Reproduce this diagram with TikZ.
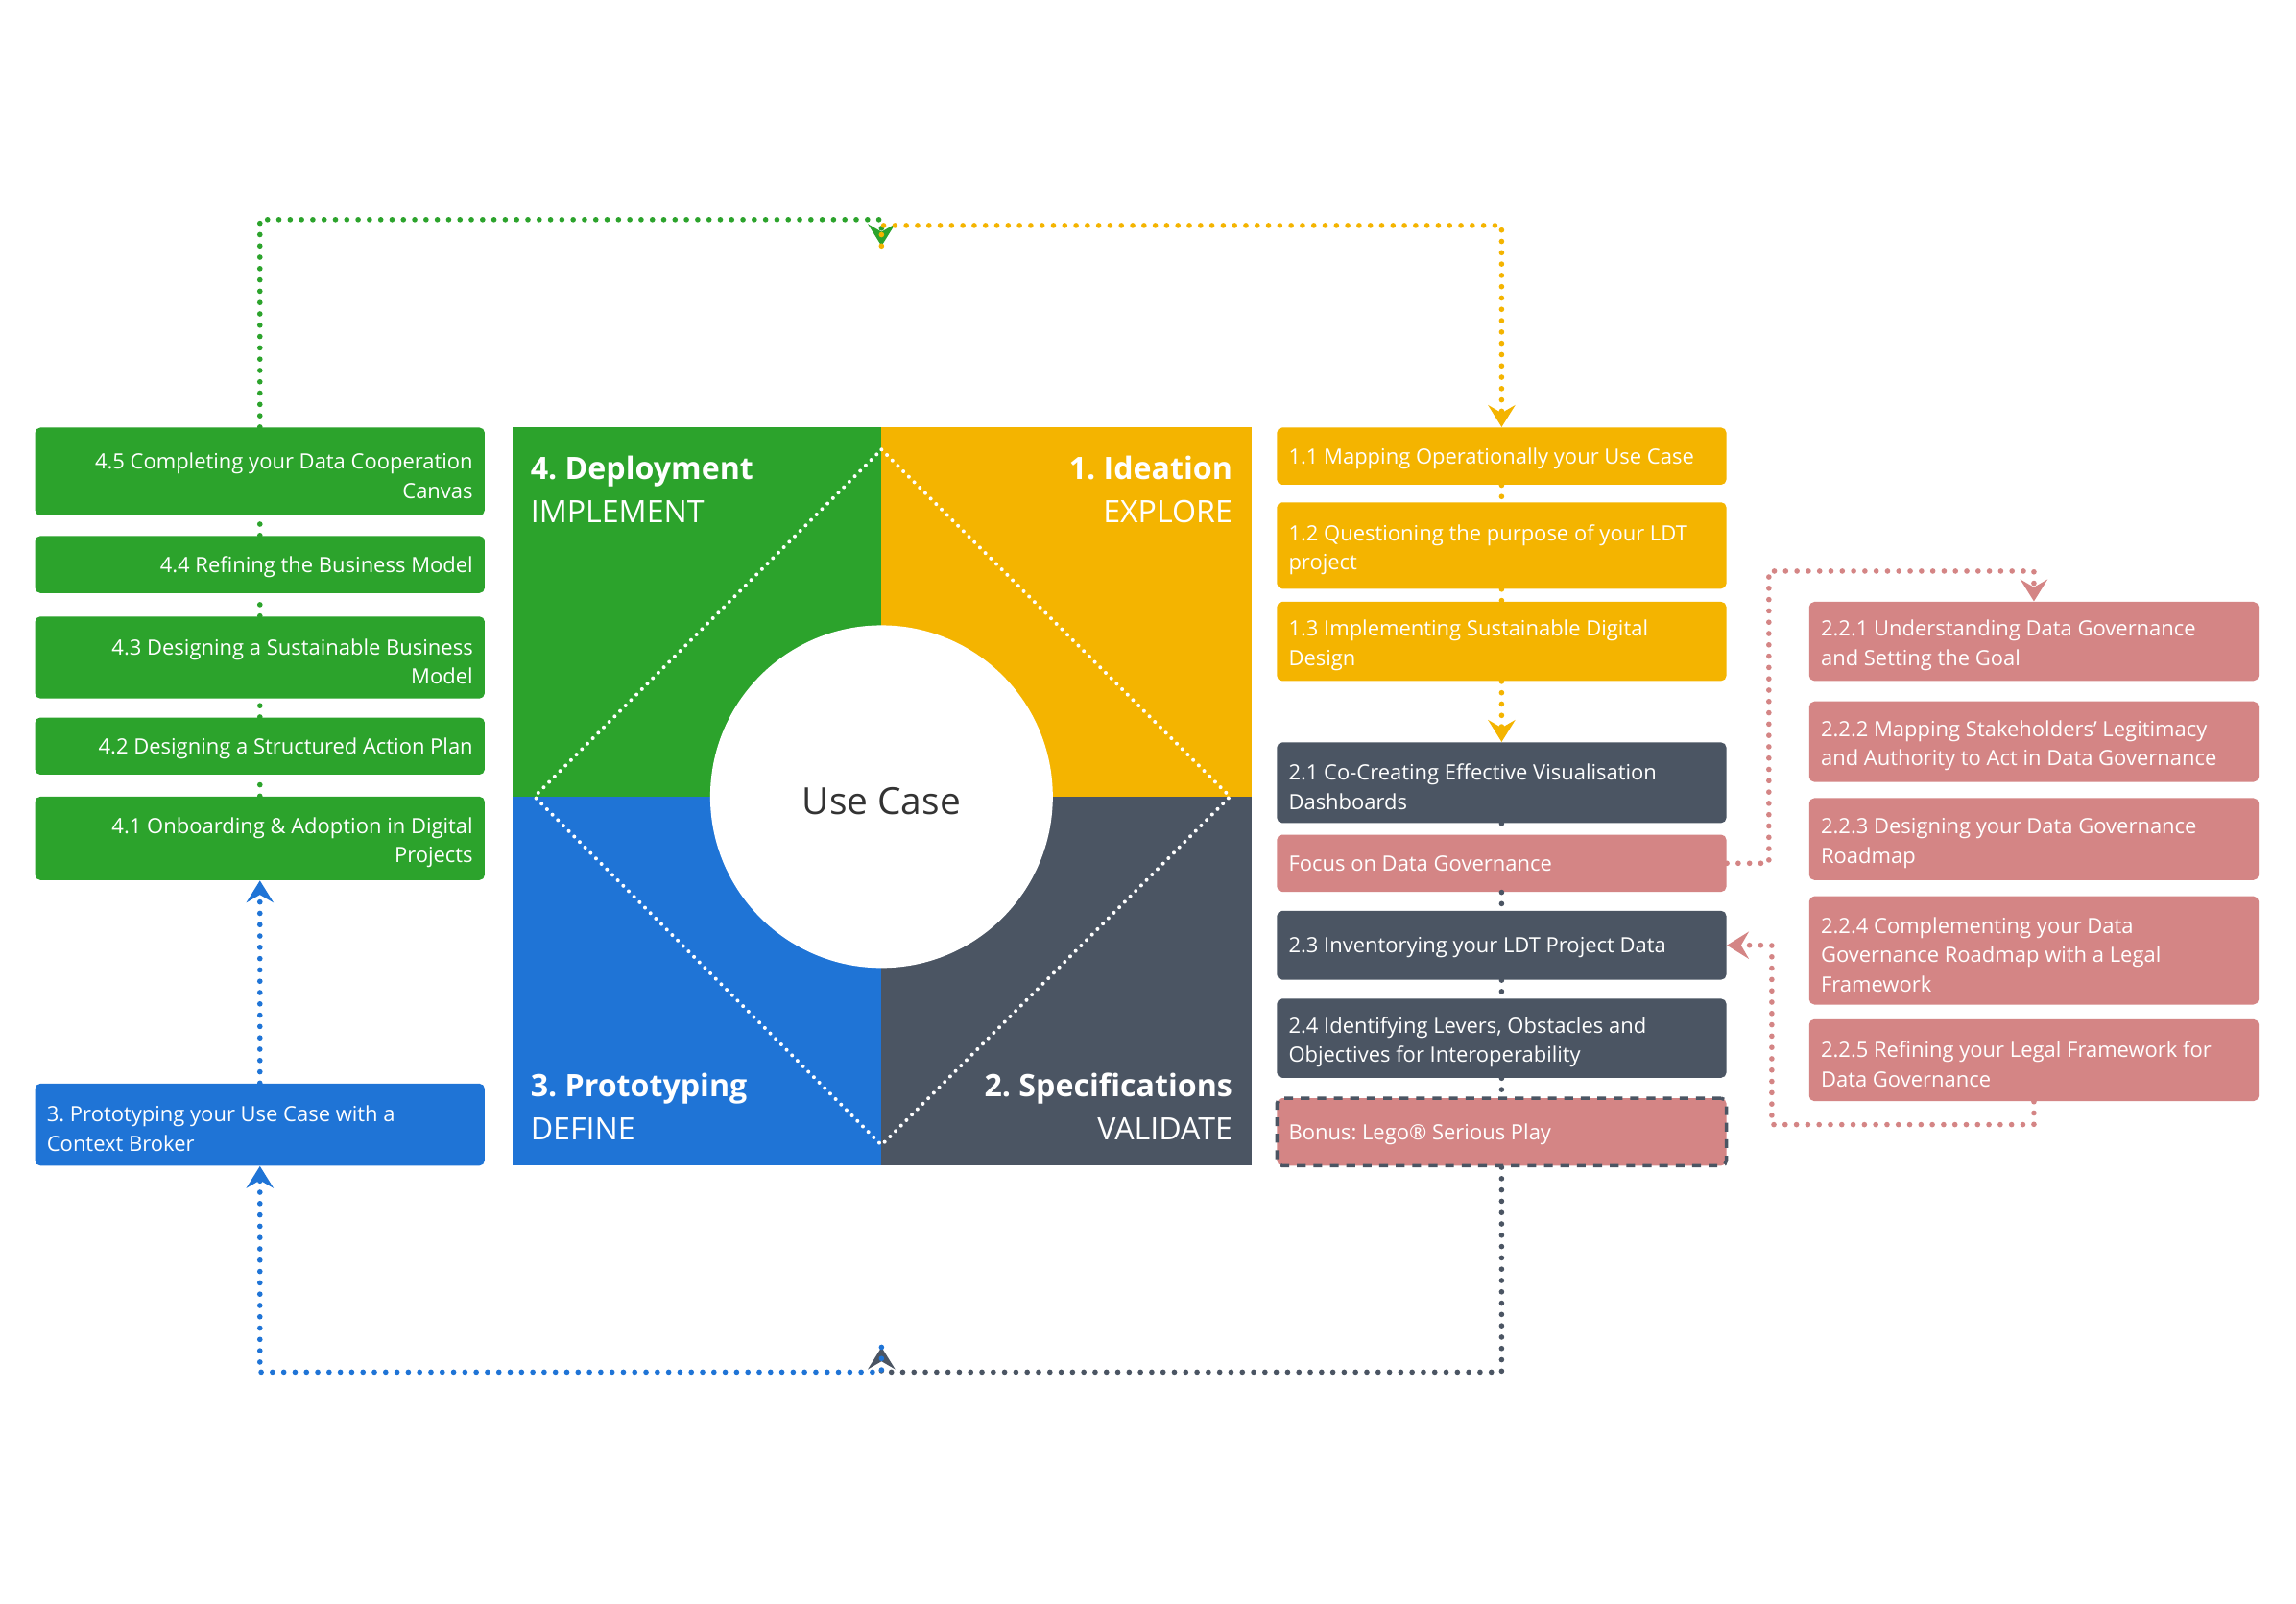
\documentclass[tikz,border=0pt]{standalone}
\usepackage{fontspec}
\setmainfont{Open Sans}
\usetikzlibrary{arrows.meta}
\definecolor{dplgreen}{HTML}{2CA32C}
\definecolor{idyellow}{HTML}{F4B400}
\definecolor{prblue}{HTML}{1F74D6}
\definecolor{spgray}{HTML}{4B5563}
\definecolor{dgpink}{HTML}{D48585}
\definecolor{ucdark}{HTML}{333333}
\frenchspacing
\hyphenpenalty=10000
\begin{document}
\begin{tikzpicture}[x=0.02cm, y=-0.02cm,
    box/.style={rectangle, rounded corners=2pt, text=white, inner xsep=0.16cm, inner ysep=0pt,
        text width=5.82cm, font=\fontsize{8.2}{11.4}\selectfont,
        execute at end node={\endgraf\kern-3.2pt}},
    lbox/.style={box, fill=dplgreen, align=flush right,
        execute at begin node={\advance\leftskip by 0.22cm\relax}},
    rbox/.style={box, align=flush left,
        execute at begin node={\advance\rightskip by 0.22cm\relax}},
    dots/.style={line width=2.1pt, line cap=round, dash pattern=on 0pt off 4.4pt},
    tip/.style={-{Stealth[length=8.5pt, width=10.5pt, inset=3pt]}},
    phase/.style={inner sep=0pt, text=white, font=\fontsize{12}{17}\selectfont}]
    \useasboundingbox[fill=white] (0,0) rectangle (1568,1095);

    \fill[dplgreen] (350,292) rectangle (602,544);
    \fill[idyellow] (602,292) rectangle (855,544);
    \fill[prblue] (350,544) rectangle (602,796);
    \fill[spgray] (602,544) rectangle (855,796);
    \draw[white, line width=1.5pt, line cap=round, dash pattern=on 0pt off 3pt]
        (602,307) -- (840,544) -- (602,782) -- (365,544) -- cycle;
    \node[circle, fill=white, minimum size=4.68cm, text=ucdark, text height=13.8pt, text depth=0pt,
        font=\fontsize{14.5}{17}\selectfont] (uc) at (602,544) {Use Case};
    \node[phase, anchor=north west, align=left] (p4) at (362,311) {\textbf{4. Deployment}\\IMPLEMENT};
    \node[phase, anchor=north east, align=right] (p1) at (842,311) {\textbf{1. Ideation}\\EXPLORE};
    \node[phase, anchor=south west, align=left] (p3) at (362,779) {\textbf{3. Prototyping}\\DEFINE};
    \node[phase, anchor=south east, align=right] (p2) at (842,779) {\textbf{2. Specifications}\\VALIDATE};

    \node[lbox, minimum height=1.2cm] (b45) at (177.5,322) {4.5 Completing your Data Cooperation Canvas};
    \node[lbox, minimum height=0.78cm] (b44) at (177.5,385.5) {4.4 Refining the Business Model};
    \node[lbox, minimum height=1.12cm] (b43) at (177.5,449) {4.3 Designing a Sustainable Business Model};
    \node[lbox, minimum height=0.78cm] (b42) at (177.5,509.5) {4.2 Designing a Structured Action Plan};
    \node[lbox, minimum height=1.14cm] (b41) at (177.5,572.5) {4.1 Onboarding \& Adoption in Digital Projects};
    \node[rbox, fill=prblue, minimum height=1.12cm] (b3) at (177.5,768) {3. Prototyping your Use Case with a Context Broker};

    \node[rbox, fill=idyellow, minimum height=0.78cm] (b11) at (1025.5,311.5) {1.1 Mapping Operationally your Use Case};
    \node[rbox, fill=idyellow, minimum height=1.18cm] (b12) at (1025.5,372.5) {1.2 Questioning the purpose of your LDT project};
    \node[rbox, fill=idyellow, minimum height=1.08cm] (b13) at (1025.5,438) {1.3 Implementing Sustainable Digital Design};
    \node[rbox, fill=spgray, minimum height=1.1cm] (b21) at (1025.5,534.5) {2.1 Co-Creating Effective Visualisation Dashboards};
    \node[rbox, fill=dgpink, minimum height=0.78cm] (bfocus) at (1025.5,589.5) {Focus on Data Governance};
    \node[rbox, fill=spgray, minimum height=0.94cm] (b23) at (1025.5,645.5) {2.3 Inventorying your LDT Project Data};
    \node[rbox, fill=spgray, minimum height=1.08cm] (b24) at (1025.5,709) {2.4 Identifying Levers, Obstacles and Objectives for Interoperability};
    \node[rbox, fill=dgpink, minimum height=0.92cm, draw=spgray, line width=1.3pt,
        dash pattern=on 3.4pt off 3pt] (bbonus) at (1025.5,773) {Bonus: Lego® Serious Play};

    \node[rbox, fill=dgpink, minimum height=1.08cm] (b221) at (1389,438) {2.2.1 Understanding Data Governance and Setting the Goal};
    \node[rbox, fill=dgpink, minimum height=1.1cm] (b222) at (1389,506.5) {2.2.2 Mapping Stakeholders' Legitimacy and Authority to Act in Data Governance};
    \node[rbox, fill=dgpink, minimum height=1.12cm] (b223) at (1389,573) {2.2.3 Designing your Data Governance Roadmap};
    \node[rbox, fill=dgpink, minimum height=1.48cm] (b224) at (1389,649) {2.2.4 Complementing your Data Governance Roadmap with a Legal Framework};
    \node[rbox, fill=dgpink, minimum height=1.12cm] (b225) at (1389,724) {2.2.5 Refining your Legal Framework for Data Governance};

    \coordinate (ctop) at (602,168);
    \coordinate (cbot) at (602,920);
    \draw[dots, dplgreen, tip] (b45.north) -- (177.5,150) -| (ctop);
    \draw[dots, idyellow, tip] (ctop) |- (1025.5,154) -- (b11.north);
    \draw[dots, spgray, tip] (bbonus.south) -- (1025.5,937) -| (cbot);
    \draw[dots, prblue, tip] (cbot) |- (177.5,937) -- (b3.south);
    \draw[dots, prblue, tip] (b3.north) -- (b41.south);

    \draw[dots, dplgreen] (b41.north) -- (b42.south);
    \draw[dots, dplgreen] (b42.north) -- (b43.south);
    \draw[dots, dplgreen] (b43.north) -- (b44.south);
    \draw[dots, dplgreen] (b44.north) -- (b45.south);

    \draw[dots, idyellow] (b11.south) -- (b12.north);
    \draw[dots, idyellow] (b12.south) -- (b13.north);
    \draw[dots, idyellow, tip] (b13.south) -- (b21.north);

    \draw[dots, spgray] (b21.south) -- (bfocus.north);
    \draw[dots, spgray] (bfocus.south) -- (b23.north);
    \draw[dots, spgray] (b23.south) -- (b24.north);
    \draw[dots, spgray] (b24.south) -- (bbonus.north);

    \draw[dots, dgpink, tip] (bfocus.east) -- (1208,589.5) |- (1389,390) -- (b221.north);
    \draw[dots, dgpink, tip] (b225.south) -- (1389,768) -| (1210,645.5) -- (b23.east);
\end{tikzpicture}
\end{document}
